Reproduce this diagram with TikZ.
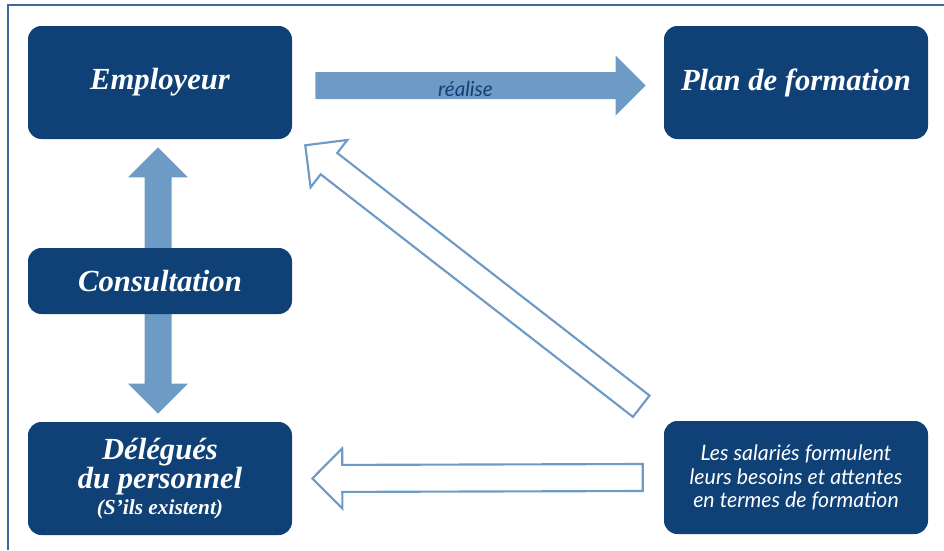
\documentclass[tikz,border=0pt]{standalone}
\usepackage{fontspec}
\setmainfont{Liberation Serif}
\newfontfamily\gsans{Lato}
\usetikzlibrary{calc,backgrounds}
\definecolor{boxblue}{RGB}{16,65,118}
\definecolor{arrblue}{RGB}{110,155,198}
\definecolor{frameblue}{RGB}{65,105,155}
\tikzset{
  box/.style={fill=boxblue, rounded corners=10pt, minimum width=198pt, minimum height=84.75pt,
    text=white, font=\bfseries\itshape\fontsize{23}{19}\selectfont, align=center, inner sep=0pt},
  smallbox/.style={box, minimum height=49.5pt},
  sansbox/.style={box, font=\gsans\itshape\fontsize{16}{17.8}\selectfont},
  solidarrow/.style={fill=arrblue, draw=none},
  hollowarrow/.style={fill=white, draw=arrblue, line width=1.6pt, line join=miter},
  lbl/.style={font=\gsans\itshape\fontsize{15.5}{17}\selectfont, text=boxblue, inner sep=0pt}
}
% #1 tail coordinate, #2 tip coordinate, #3 style
\newcommand{\blockarrow}[3]{%
  \coordinate (hb) at ($(#2)!22.5pt!(#1)$);
  \path[#3] ($(#1)!10.125pt!90:(#2)$) -- ($(hb)!10.125pt!-90:(#1)$) -- ($(hb)!22.5pt!-90:(#1)$)
    -- (#2) -- ($(hb)!22.5pt!90:(#1)$) -- ($(hb)!10.125pt!90:(#1)$) -- ($(#1)!10.125pt!-90:(#2)$) -- cycle;
}
\begin{document}
\begin{tikzpicture}[x=0.75pt, y=-0.75pt]
\useasboundingbox (0,0) rectangle (944,550);
\draw[frameblue, line width=1.1pt] (8,550) -- (8,5) -- (944,5);

\node[box] (emp) at (160,82.5) {Employeur};
\node[box] (plan) at (796,82.5) {Plan de formation};
\node[smallbox] (cons) at (160,281) {Consultation};
\node[box] (del) at (160,478.5) {Délégués\\du personnel\\{\fontsize{16}{19}\selectfont (S’ils existent)}};
\node[sansbox] (sal) at (796,477.5) {Les salariés formulent\\leurs besoins et attentes\\en termes de formation};

% realise arrow
\coordinate (r1) at ($(emp.east)+(23,3)$);
\coordinate (r2) at ($(plan.west)+(-18,3)$);
\blockarrow{r1}{r2}{solidarrow}
\node[lbl] (realise) at ($(r1)!0.5!(r2)+(-15,3)$) {réalise};

% consultation double arrow (behind)
\coordinate (ctop) at ($(emp.south)+(-2,8)$);
\coordinate (cbot) at ($(del.north)+(-2,-8)$);
\coordinate (cmid) at ($(cons.center)+(-2,0)$);
\begin{scope}[on background layer]
\blockarrow{cmid}{ctop}{solidarrow}
\blockarrow{cmid}{cbot}{solidarrow}
\end{scope}

% bottom hollow arrow
\coordinate (b1) at ($(sal.west)+(-21,0)$);
\coordinate (b2) at ($(del.east)+(20,0)$);
\blockarrow{b1}{b2}{hollowarrow}

% diagonal hollow arrow
\coordinate (d1) at ($(sal.north west)+(-22.5,-14.5)$);
\coordinate (d2) at ($(emp.south east)+(13,6)$);
\blockarrow{d1}{d2}{hollowarrow}
\end{tikzpicture}
\end{document}
